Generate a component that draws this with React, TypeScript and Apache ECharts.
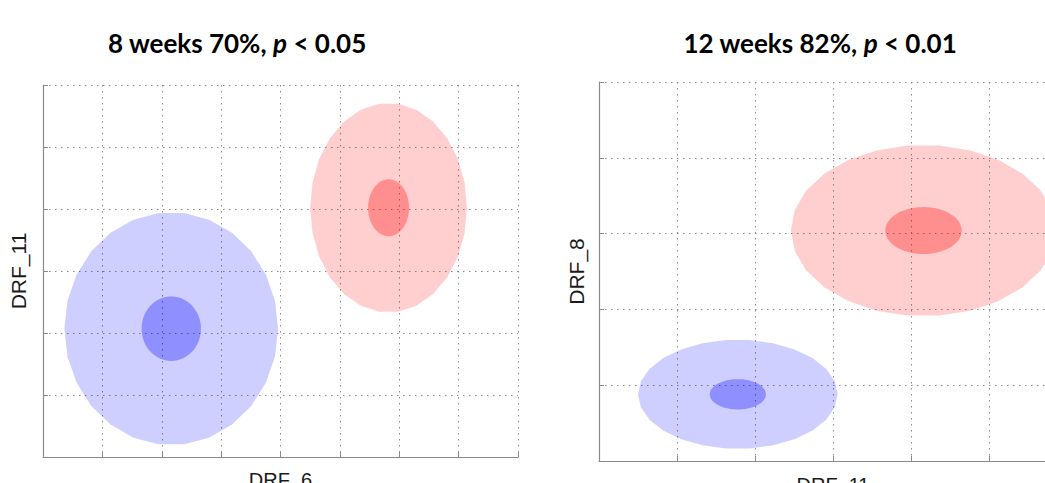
import React, { useEffect, useRef } from "react";
import * as echarts from "echarts";

// Panel texts
const panelTitleLead = ["8 weeks 70%, ", "12 weeks 82%, "];
const panelTitleTail = [" < 0.05", " < 0.01"];
const xAxisNames = ["DRF_6", "DRF_11"];
const yAxisNames = ["DRF_11", "DRF_8"];
const xAxisMax = [8, 6];
const yAxisMax = [6, 5];

// Group ellipses: [blue, red]; centres and half-axes in data units
const week8Centers = [
  [2.16, 2.07],
  [5.82, 4.02],
];
const week8Outer = [
  [1.8, 1.88],
  [1.32, 1.69],
];
const week8Inner = [
  [0.5, 0.52],
  [0.345, 0.46],
];
const week12Centers = [
  [1.78, 0.88],
  [4.16, 3.04],
];
const week12Outer = [
  [1.28, 0.72],
  [1.7, 1.13],
];
const week12Inner = [
  [0.36, 0.2],
  [0.49, 0.31],
];

const outerColors = ["rgba(0,0,255,0.19)", "rgba(255,0,0,0.19)"];
const innerColors = ["rgba(0,0,255,0.31)", "rgba(255,0,0,0.31)"];

function buildItems(centers: number[][], outer: number[][], inner: number[][]) {
  const items: number[][] = [];
  centers.forEach((c, g) => {
    items.push([c[0], c[1], outer[g][0], outer[g][1], g, 0]);
  });
  centers.forEach((c, g) => {
    items.push([c[0], c[1], inner[g][0], inner[g][1], g, 1]);
  });
  return items;
}

function renderEllipse(params: any, api: any) {
  const cx = api.value(0);
  const cy = api.value(1);
  const rx = api.value(2);
  const ry = api.value(3);
  const g = api.value(4);
  const layer = api.value(5);
  const n = layer === 0 ? 26 : 72;
  const points: number[][] = [];
  for (let k = 0; k < n; k++) {
    const t = (2 * Math.PI * k) / n;
    points.push(api.coord([cx + rx * Math.cos(t), cy + ry * Math.sin(t)]));
  }
  return {
    type: "polygon",
    shape: { points },
    style: { fill: layer === 0 ? outerColors[g] : innerColors[g], stroke: null },
  };
}

const axisColor = "#8a8a8a";
const gridDash = [1.5, 4.5];

function makeX(i: number, gap: number) {
  return {
    type: "value",
    gridIndex: i,
    min: 0,
    max: xAxisMax[i],
    interval: 1,
    name: xAxisNames[i],
    nameLocation: "middle",
    nameGap: gap,
    nameTextStyle: { fontSize: 20, color: "#1a1a1a", fontFamily: "Liberation Sans" },
    axisLabel: { show: false },
    axisTick: { show: true, inside: true, length: 5, lineStyle: { color: axisColor } },
    axisLine: { show: true, onZero: false, lineStyle: { color: axisColor, width: 1.2 } },
    splitLine: {
      show: true,
      showMinLine: true,
      showMaxLine: true,
      lineStyle: { color: "#8c8c8c", type: gridDash, width: 1 },
    },
  };
}

function makeY(i: number, gap: number) {
  return {
    type: "value",
    gridIndex: i,
    min: 0,
    max: yAxisMax[i],
    interval: 1,
    name: yAxisNames[i],
    nameLocation: "middle",
    nameGap: gap,
    nameTextStyle: { fontSize: 21, color: "#1a1a1a", fontFamily: "Liberation Sans" },
    axisLabel: { show: false },
    axisTick: { show: true, inside: true, length: 5, lineStyle: { color: axisColor } },
    axisLine: { show: true, onZero: false, lineStyle: { color: axisColor, width: 1.2 } },
    splitLine: {
      show: true,
      showMinLine: true,
      showMaxLine: true,
      lineStyle: { color: "#8c8c8c", type: gridDash, width: 1 },
    },
  };
}

function makeTitle(i: number, left: number) {
  return {
    text: `{b|${panelTitleLead[i]}}{i|p}{b|${panelTitleTail[i]}}`,
    left,
    top: 25,
    textAlign: "center",
    textStyle: {
      rich: {
        b: { fontSize: 26, fontWeight: "bold", color: "#000", fontFamily: "Lato" },
        i: { fontSize: 26, fontWeight: "bold", fontStyle: "italic", color: "#000", fontFamily: "Lato" },
      },
    },
  };
}

export default function App() {
  const ref = useRef<HTMLDivElement>(null);
  useEffect(() => {
    if (!ref.current) return;
    const chart = echarts.init(ref.current, undefined, { renderer: "svg" });
    chart.setOption({
      animation: false,
      backgroundColor: "#ffffff",
      textStyle: { fontFamily: "Liberation Sans" },
      title: [makeTitle(0, 232), makeTitle(1, 815)],
      grid: [
        { left: 43, top: 85, width: 475, height: 372, outerBoundsMode: "none", containLabel: false },
        { left: 599, top: 82, width: 468, height: 379, outerBoundsMode: "none", containLabel: false },
      ],
      xAxis: [makeX(0, 13), makeX(1, 14)],
      yAxis: [makeY(0, 14), makeY(1, 12)],
      series: [
        {
          type: "custom",
          xAxisIndex: 0,
          yAxisIndex: 0,
          renderItem: renderEllipse,
          data: buildItems(week8Centers, week8Outer, week8Inner),
          clip: false,
        },
        {
          type: "custom",
          xAxisIndex: 1,
          yAxisIndex: 1,
          renderItem: renderEllipse,
          data: buildItems(week12Centers, week12Outer, week12Inner),
          clip: false,
        },
      ],
    });
    return () => chart.dispose();
  }, []);
  return (
    <div
      ref={ref}
      style={{ position: "fixed", left: 0, top: 0, width: 1045, height: 483 }}
    />
  );
}
